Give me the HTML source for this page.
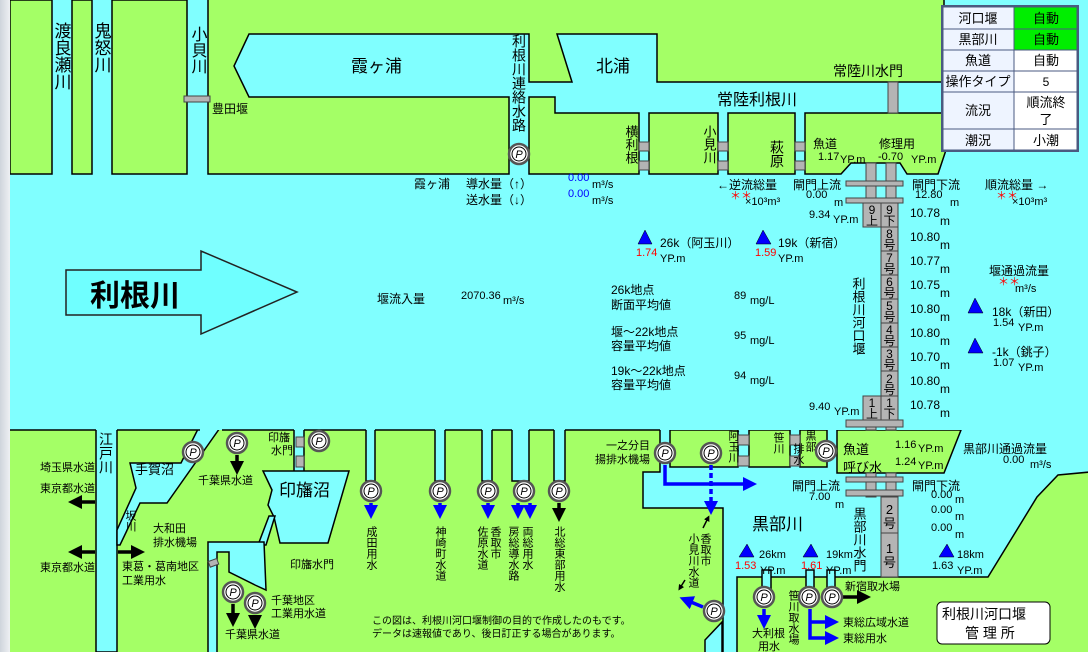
<!DOCTYPE html>
<html><head><meta charset="utf-8"><style>
html,body{margin:0;padding:0;width:1088px;height:652px;overflow:hidden;background:#80ffff}
svg{display:block}
text{font-family:"Liberation Sans","Noto Sans CJK JP",sans-serif;font-size:12px;fill:#000}
.v{writing-mode:vertical-rl;text-orientation:upright}
.g{fill:#a4ff66;stroke:#000;stroke-width:1.5}
.c{fill:#80ffff;stroke:#000;stroke-width:1.5}
.gr{fill:#b4b4b4;stroke:#444;stroke-width:1}
.b{fill:#00f}
.r{fill:#f00}
.n{font-size:11px}
</style></head><body>
<svg width="1088" height="652" viewBox="0 0 1088 652" xmlns="http://www.w3.org/2000/svg">
<defs>
<marker id="ak" markerWidth="4" markerHeight="4" refX="2" refY="2" orient="auto" markerUnits="strokeWidth"><path d="M0,0L4,2L0,4z" fill="#000"/></marker>
<marker id="ab" markerWidth="4" markerHeight="4" refX="2" refY="2" orient="auto" markerUnits="strokeWidth"><path d="M0,0L4,2L0,4z" fill="#00f"/></marker>
<linearGradient id="lg" x1="0" x2="1"><stop offset="0" stop-color="#cfd5dc"/><stop offset="1" stop-color="#eef0f3"/></linearGradient>
</defs>
<rect x="0" y="0" width="1088" height="652" fill="#80ffff"/>

<rect x="10" y="430" width="1078" height="222" fill="#a4ff66"/>
<rect x="96" y="425" width="21" height="227" class="c"/>
<polygon class="c" points="200,425 222,425 167,503 140,503 120,545 117,545 117,530 136,488 130,463 181,463"/>
<rect x="294" y="425" width="10" height="48" class="c"/>
<rect x="296" y="437" width="8" height="10" class="gr"/><rect x="296" y="456" width="8" height="11" class="gr"/>
<polygon class="c" points="263,471 349,471 328,543 280,543 274,517 268,505 272,490"/>
<polygon class="c" points="269,516 275,516 266,545 258,545"/>
<polygon class="c" points="208,542 264,542 266,590 255,585 229,572 229,552 217,552 217,656 208,656"/>
<rect x="366" y="425" width="9" height="56" class="c"/>
<rect x="435" y="425" width="10" height="56" class="c"/>
<rect x="482" y="425" width="10" height="56" class="c"/>
<rect x="512" y="425" width="17" height="56" class="c"/>
<rect x="554" y="425" width="11" height="56" class="c"/>
<polygon class="c" points="660,425 1090,425 1090,472 1058,475 1037,497 988,577 737,577 737,656 723,656 723,508 643,508 643,472 660,472"/>
<polygon class="c" points="705,656 722,656 722,622 705,640"/>
<rect x="762" y="570" width="9" height="20" class="c"/>
<rect x="806" y="570" width="8" height="20" class="c"/>
<rect x="827" y="570" width="8" height="20" class="c"/>
<rect x="670" y="430" width="68" height="37" class="g"/>
<rect x="749" y="430" width="41" height="37" class="g"/>
<rect x="800" y="430" width="27" height="37" class="g"/>
<rect x="738" y="435" width="11" height="10" class="gr"/><rect x="738" y="456" width="11" height="10" class="gr"/>
<rect x="790" y="435" width="10" height="10" class="gr"/><rect x="790" y="456" width="10" height="10" class="gr"/>
<polygon class="g" points="837,430 961,430 944,473 837,473"/>

<rect x="10" y="174" width="1078" height="256" fill="#80ffff"/>
<g stroke="#000" stroke-width="1.5">
<line x1="10" y1="430" x2="96" y2="430"/><line x1="117" y1="430" x2="200" y2="430"/>
<line x1="222" y1="430" x2="294" y2="430"/><line x1="304" y1="430" x2="366" y2="430"/>
<line x1="375" y1="430" x2="435" y2="430"/><line x1="445" y1="430" x2="482" y2="430"/>
<line x1="492" y1="430" x2="512" y2="430"/><line x1="529" y1="430" x2="554" y2="430"/>
<line x1="565" y1="430" x2="660" y2="430"/>
</g>

<rect x="10" y="0" width="42" height="174" class="g"/>
<rect x="72" y="0" width="20" height="174" class="g"/>
<rect x="112" y="0" width="75" height="174" class="g"/>
<polygon class="g" points="208,-2 944,-2 944,82 657,82 657,34 557,34 572,82 529,82 529,34 249,34 234,66 249,97 509,97 509,174 208,174"/>
<rect x="184" y="96" width="26" height="6" class="gr"/>
<polygon class="g" points="529,97 555,97 555,113 639,113 639,174 529,174"/>
<rect x="649" y="113" width="69" height="61" class="g"/>
<rect x="728" y="113" width="67" height="61" class="g"/>
<polygon class="g" points="805,113 946,113 946,150 938,174 907,174 900,163 851,163 841,174 805,174"/>
<g class="gr">
<rect x="639" y="142" width="10" height="9"/><rect x="639" y="161" width="10" height="9"/>
<rect x="718" y="142" width="10" height="9"/><rect x="718" y="161" width="10" height="9"/>
<rect x="795" y="142" width="10" height="9"/><rect x="795" y="161" width="10" height="9"/>
<rect x="888" y="82" width="10" height="31"/>
<rect x="866" y="163" width="10" height="40"/><rect x="886" y="163" width="10" height="40"/>
<rect x="846" y="181" width="57" height="5"/><rect x="846" y="198" width="57" height="5"/>
<rect x="863" y="203" width="18" height="24"/><rect x="863" y="396" width="18" height="24"/>
<rect x="881" y="203" width="17" height="24"/><rect x="881" y="227" width="17" height="24"/>
<rect x="881" y="251" width="17" height="24"/><rect x="881" y="275" width="17" height="24"/>
<rect x="881" y="299" width="17" height="24"/><rect x="881" y="323" width="17" height="24"/>
<rect x="881" y="347" width="17" height="24"/><rect x="881" y="371" width="17" height="25"/>
<rect x="881" y="396" width="17" height="24"/>
<rect x="846" y="420" width="57" height="7"/>
<rect x="866" y="427" width="10" height="3"/><rect x="886" y="427" width="10" height="3"/>
<rect x="866" y="473" width="10" height="24"/><rect x="886" y="473" width="10" height="24"/>
<rect x="846" y="477" width="57" height="5"/><rect x="846" y="490" width="57" height="6"/>
<rect x="881" y="497" width="17" height="36"/><rect x="881" y="533" width="17" height="44"/>
</g>
<g class="n" text-anchor="middle">
<text x="872" y="214">9</text><text x="872" y="225">上</text>
<text x="872" y="407">1</text><text x="872" y="418">上</text>
<text x="889.5" y="214">9</text><text x="889.5" y="225">下</text>
<text x="889.5" y="238">8</text><text x="889.5" y="249">号</text>
<text x="889.5" y="262">7</text><text x="889.5" y="273">号</text>
<text x="889.5" y="286">6</text><text x="889.5" y="297">号</text>
<text x="889.5" y="310">5</text><text x="889.5" y="321">号</text>
<text x="889.5" y="334">4</text><text x="889.5" y="345">号</text>
<text x="889.5" y="358">3</text><text x="889.5" y="369">号</text>
<text x="889.5" y="383">2</text><text x="889.5" y="394">号</text>
<text x="889.5" y="407">1</text><text x="889.5" y="418">下</text>
<text x="889.5" y="514" style="font-size:13px">2</text><text x="889.5" y="528" style="font-size:13px">号</text>
<text x="889.5" y="553" style="font-size:13px">1</text><text x="889.5" y="567" style="font-size:13px">号</text>
</g>

<rect x="0" y="0" width="10" height="652" fill="url(#lg)"/>

<g stroke="#4a5a80" stroke-width="1">
<rect x="942" y="6" width="136" height="145" fill="#f4f8ff" stroke-width="2"/>
<rect x="943" y="7" width="71" height="22" fill="#eef4ff"/><rect x="1014" y="7" width="63" height="22" fill="#00ee00"/>
<rect x="943" y="29" width="71" height="21" fill="#eef4ff"/><rect x="1014" y="29" width="63" height="21" fill="#00ee00"/>
<rect x="943" y="50" width="71" height="21" fill="#eef4ff"/><rect x="1014" y="50" width="63" height="21" fill="#fff"/>
<rect x="943" y="71" width="71" height="21" fill="#eef4ff"/><rect x="1014" y="71" width="63" height="21" fill="#fff"/>
<rect x="943" y="92" width="71" height="37" fill="#eef4ff"/><rect x="1014" y="92" width="63" height="37" fill="#fff"/>
<rect x="943" y="129" width="71" height="21" fill="#eef4ff"/><rect x="1014" y="129" width="63" height="21" fill="#fff"/>
</g>
<g text-anchor="middle">
<text x="978" y="23" style="font-size:13px">河口堰</text><text x="1046" y="23" style="font-size:13px">自動</text>
<text x="978" y="44" style="font-size:13px">黒部川</text><text x="1046" y="44" style="font-size:13px">自動</text>
<text x="978" y="65" style="font-size:13px">魚道</text><text x="1046" y="65" style="font-size:13px">自動</text>
<text x="978" y="86" style="font-size:13px">操作タイプ</text><text x="1046" y="86" style="font-size:12px">5</text>
<text x="978" y="115" style="font-size:13px">流況</text><text x="1046" y="107" style="font-size:13px">順流終</text><text x="1046" y="124" style="font-size:13px">了</text>
<text x="978" y="145" style="font-size:13px">潮況</text><text x="1046" y="145" style="font-size:13px">小潮</text>
</g>

<text class="v" x="61" y="22" style="font-size:17px">渡良瀬川</text>
<text class="v" x="101" y="22" style="font-size:17px">鬼怒川</text>
<text class="v" x="197" y="26" style="font-size:16px">小貝川</text>
<text x="212" y="113" style="font-size:12px">豊田堰</text>
<text x="351" y="72" style="font-size:17px">霞ヶ浦</text>
<text class="v" x="519" y="34" style="font-size:14px">利根川連絡水路</text>
<text x="596" y="72" style="font-size:17px">北浦</text>
<text x="833" y="76" style="font-size:14px">常陸川水門</text>
<text x="717" y="105" style="font-size:16px">常陸利根川</text>
<text class="v" x="631" y="125" style="font-size:13px">横利根</text>
<text class="v" x="709" y="125" style="font-size:13px">小見川</text>
<text class="v" x="777" y="140" style="font-size:14px">萩原</text>
<text x="813" y="148">魚道</text><text x="818" y="160" class="n">1.17</text><text x="840" y="163" class="n">YP.m</text>
<text x="879" y="148">修理用</text><text x="878" y="160" class="n">-0.70</text><text x="911" y="163" class="n">YP.m</text>

<text x="414" y="188">霞ヶ浦</text>
<text x="466" y="188">導水量（↑）</text>
<text x="466" y="204">送水量（↓）</text>
<text x="568" y="181" class="n b">0.00</text><text x="592" y="188" class="n">m³/s</text>
<text x="568" y="197" class="n b">0.00</text><text x="592" y="204" class="n">m³/s</text>
<text x="717" y="189">←逆流総量</text>
<text x="730" y="199" class="n r">＊＊</text><text x="745" y="205" class="n">×10³m³</text>
<text x="793" y="189">閘門上流</text><text x="806" y="198" class="n">0.00</text><text x="834" y="206" class="n">m</text>
<text x="912" y="189">閘門下流</text><text x="915" y="198" class="n">12.80</text><text x="950" y="206" class="n">m</text>
<text x="985" y="189">順流総量 →</text>
<text x="996" y="199" class="n r">＊＊</text><text x="1012" y="205" class="n">×10³m³</text>

<text x="809" y="218" class="n">9.34</text><text x="833" y="223" class="n">YP.m</text>
<text x="809" y="410" class="n">9.40</text><text x="834" y="415" class="n">YP.m</text>
<g class="n">
<text x="910" y="217">10.78</text><text x="940" y="225">m</text>
<text x="910" y="241">10.80</text><text x="940" y="249">m</text>
<text x="910" y="265">10.77</text><text x="940" y="273">m</text>
<text x="910" y="289">10.75</text><text x="940" y="297">m</text>
<text x="910" y="313">10.80</text><text x="940" y="321">m</text>
<text x="910" y="337">10.80</text><text x="940" y="345">m</text>
<text x="910" y="361">10.70</text><text x="940" y="369">m</text>
<text x="910" y="385">10.80</text><text x="940" y="393">m</text>
<text x="910" y="409">10.78</text><text x="940" y="417">m</text>
</g>
<text class="v" x="858" y="277" style="font-size:13px">利根川河口堰</text>

<g class="b" stroke="#000" stroke-width="0.5">
<polygon points="645,230 638,244 652,244"/><polygon points="763,230 756,244 771,244"/>
<polygon points="975,298 968,313 983,313"/><polygon points="975,338 968,353 983,353"/>
<polygon points="747,544 739,557 754,557"/><polygon points="811,544 803,557 818,557"/>
<polygon points="947,544 939,557 954,557"/>
</g>
<text x="636" y="256" class="n r">1.74</text><text x="660" y="247">26k（阿玉川）</text><text x="660" y="262" class="n">YP.m</text>
<text x="755" y="256" class="n r">1.59</text><text x="778" y="247">19k（新宿）</text><text x="778" y="262" class="n">YP.m</text>
<text x="611" y="294">26k地点</text><text x="611" y="309">断面平均値</text><text x="734" y="299" class="n">89</text><text x="750" y="304" class="n">mg/L</text>
<text x="611" y="336">堰〜22k地点</text><text x="611" y="350">容量平均値</text><text x="734" y="339" class="n">95</text><text x="750" y="344" class="n">mg/L</text>
<text x="611" y="375">19k〜22k地点</text><text x="611" y="389">容量平均値</text><text x="734" y="379" class="n">94</text><text x="750" y="384" class="n">mg/L</text>
<text x="989" y="275">堰通過流量</text><text x="998" y="285" class="n r">＊＊</text><text x="1015" y="292" class="n">m³/s</text>
<text x="992" y="316">18k（新田）</text><text x="993" y="326" class="n">1.54</text><text x="1018" y="331" class="n">YP.m</text>
<text x="992" y="356">-1k（銚子）</text><text x="993" y="366" class="n">1.07</text><text x="1018" y="371" class="n">YP.m</text>

<polygon points="66,270 201,270 201,251 297,292 201,334 201,315 66,315" fill="#6fffff" stroke="#222" stroke-width="1.5"/>
<text x="90" y="306" style="font-size:30px;font-weight:bold">利根川</text>
<text x="377" y="303">堰流入量</text><text x="461" y="299" class="n">2070.36</text><text x="503" y="304" class="n">m³/s</text>

<text class="v" x="106" y="432" style="font-size:14px">江戸川</text>
<text x="40" y="471" class="n">埼玉県水道</text>
<text x="40" y="492" class="n">東京都水道</text>
<text x="40" y="571" class="n">東京都水道</text>
<text x="135" y="474" style="font-size:13px">手賀沼</text>
<text class="v n" x="130" y="510">坂川</text>
<text x="198" y="484" class="n">千葉県水道</text>
<text x="268" y="441" class="n">印旛</text><text x="271" y="454" class="n">水門</text>
<text x="279" y="496" style="font-size:17px">印旛沼</text>
<text x="153" y="532" class="n">大和田</text><text x="153" y="546" class="n">排水機場</text>
<text x="122" y="570" class="n">東葛・葛南地区</text><text x="122" y="584" class="n">工業用水</text>
<text x="290" y="568" class="n">印旛水門</text>
<text x="271" y="604" class="n">千葉地区</text><text x="271" y="617" class="n">工業用水道</text>
<text x="225" y="638" class="n">千葉県水道</text>
<rect x="209" y="560" width="9" height="6" class="gr" transform="rotate(-20 213 563)"/>
<text class="v n" x="371" y="526">成田用水</text>
<text class="v n" x="440" y="526">神崎町水道</text>
<text class="v n" x="482" y="526">佐原水道</text><text class="v n" x="495" y="526">香取市</text>
<text class="v n" x="513" y="526">房総導水路</text><text class="v n" x="527" y="526">両総用水</text>
<text class="v n" x="559" y="526">北総東部用水</text>
<text x="372" y="624" style="font-size:10px">この図は、利根川河口堰制御の目的で作成したのもです。</text>
<text x="372" y="637" style="font-size:10px">データは速報値であり、後日訂正する場合があります。</text>

<text x="650" y="449" class="n" text-anchor="end">一之分目</text>
<text x="650" y="463" class="n" text-anchor="end">揚排水機場</text>
<text class="v n" x="733" y="430">阿玉川</text>
<text class="v n" x="778" y="432">笹川</text>
<text class="v n" x="810" y="430">黒部</text><text class="v n" x="798" y="443">排水</text>
<text x="843" y="454" style="font-size:13px">魚道</text><text x="843" y="472" style="font-size:13px">呼び水</text>
<text x="895" y="448" class="n">1.16</text><text x="918" y="452" class="n">YP.m</text>
<text x="895" y="465" class="n">1.24</text><text x="918" y="469" class="n">YP.m</text>
<text x="963" y="453">黒部川通過流量</text><text x="1003" y="463" class="n">0.00</text><text x="1030" y="468" class="n">m³/s</text>
<text x="792" y="490">閘門上流</text><text x="809" y="500" class="n">7.00</text><text x="835" y="508" class="n">m</text>
<text x="912" y="490">閘門下流</text>
<text x="931" y="498" class="n">0.00</text><text x="955" y="503" class="n">m</text>
<text x="931" y="513" class="n">0.00</text><text x="955" y="520" class="n">m</text>
<text x="931" y="531" class="n">0.00</text><text x="955" y="538" class="n">m</text>
<text x="752" y="530" style="font-size:17px">黒部川</text>
<text class="v" x="859" y="507" style="font-size:13px">黒部川水門</text>
<text x="735" y="569" class="n r">1.53</text><text x="759" y="558" class="n">26km</text><text x="760" y="574" class="n">YP.m</text>
<text x="801" y="569" class="n r">1.61</text><text x="826" y="558" class="n">19km</text><text x="826" y="574" class="n">YP.m</text>
<text x="932" y="569" class="n">1.63</text><text x="957" y="558" class="n">18km</text><text x="957" y="574" class="n">YP.m</text>
<text class="v n" x="693" y="533">小見川水道</text><text class="v n" x="705" y="533">香取市</text>
<text class="v n" x="793" y="590">笹川取水場</text>
<text x="752" y="637" class="n">大利根</text><text x="758" y="650" class="n">用水</text>
<text x="845" y="590" class="n">新宿取水場</text>
<text x="843" y="626" class="n">東総広域水道</text>
<text x="843" y="642" class="n">東総用水</text>
<rect x="937" y="602" width="113" height="42" rx="5" fill="#fff" stroke="#000" stroke-width="1"/>
<text x="942" y="619" style="font-size:14px">利根川河口堰</text>
<text x="965" y="638" style="font-size:14px">管 理 所</text>

<g stroke="#000" stroke-width="3.5" fill="none" marker-end="url(#ak)">
<line x1="95" y1="502" x2="75" y2="502"/><line x1="95" y1="552" x2="75" y2="552"/>
<line x1="118" y1="552" x2="138" y2="552"/>
<line x1="237" y1="455" x2="237" y2="468"/>
<line x1="233" y1="604" x2="233" y2="620"/><line x1="255" y1="615" x2="255" y2="622"/>
<line x1="559" y1="503" x2="559" y2="515"/>
<line x1="843" y1="597" x2="864" y2="597"/>
</g>
<g stroke="#000" stroke-width="1.5" fill="none" marker-end="url(#ak)">
<line x1="703" y1="528" x2="708" y2="518"/><line x1="685" y1="580" x2="680" y2="588"/>
</g>
<g stroke="#00f" stroke-width="3.5" fill="none" marker-end="url(#ab)">
<line x1="371" y1="503" x2="371" y2="512"/><line x1="440" y1="503" x2="440" y2="512"/>
<line x1="488" y1="503" x2="488" y2="512"/><line x1="518" y1="503" x2="518" y2="512"/>
<line x1="530" y1="503" x2="530" y2="512"/>
<polyline points="665,465 665,484 750,484"/>
<line x1="711" y1="465" x2="711" y2="508" stroke-dasharray="5,3"/>
<line x1="703" y1="607" x2="686" y2="600"/>
<line x1="764" y1="609" x2="764" y2="622"/>
<polyline points="810,609 810,638 832,638"/>
<line x1="810" y1="622" x2="832" y2="622"/>
</g>

<g stroke="#555" stroke-width="2.5" fill="#fff">
<circle cx="519" cy="154" r="10"/>
<circle cx="193" cy="452" r="10"/><circle cx="237" cy="443" r="10"/><circle cx="319" cy="441" r="10"/>
<circle cx="371" cy="491" r="10"/><circle cx="440" cy="491" r="10"/><circle cx="488" cy="491" r="10"/><circle cx="524" cy="491" r="10"/>
<circle cx="559" cy="491" r="10"/><circle cx="233" cy="592" r="10"/><circle cx="255" cy="603" r="10"/>
<circle cx="665" cy="453" r="10"/><circle cx="711" cy="453" r="10"/><circle cx="826" cy="451" r="10"/>
<circle cx="714" cy="611" r="10"/><circle cx="764" cy="597" r="10"/><circle cx="809" cy="597" r="10"/><circle cx="832" cy="597" r="10"/>
</g>
<g stroke="#000" stroke-width="1" fill="none">
<circle cx="519" cy="154" r="7"/>
<circle cx="193" cy="452" r="7"/><circle cx="237" cy="443" r="7"/><circle cx="319" cy="441" r="7"/>
<circle cx="371" cy="491" r="7"/><circle cx="440" cy="491" r="7"/><circle cx="488" cy="491" r="7"/><circle cx="524" cy="491" r="7"/>
<circle cx="559" cy="491" r="7"/><circle cx="233" cy="592" r="7"/><circle cx="255" cy="603" r="7"/>
<circle cx="665" cy="453" r="7"/><circle cx="711" cy="453" r="7"/><circle cx="826" cy="451" r="7"/>
<circle cx="714" cy="611" r="7"/><circle cx="764" cy="597" r="7"/><circle cx="809" cy="597" r="7"/><circle cx="832" cy="597" r="7"/>
</g>
<g text-anchor="middle" style="font-size:11px;font-style:italic">
<text x="519" y="158" style="font-size:11px">P</text>
<text x="193" y="456" style="font-size:11px">P</text><text x="237" y="447" style="font-size:11px">P</text><text x="319" y="445" style="font-size:11px">P</text>
<text x="371" y="495" style="font-size:11px">P</text><text x="440" y="495" style="font-size:11px">P</text><text x="488" y="495" style="font-size:11px">P</text><text x="524" y="495" style="font-size:11px">P</text>
<text x="559" y="495" style="font-size:11px">P</text><text x="233" y="596" style="font-size:11px">P</text><text x="255" y="607" style="font-size:11px">P</text>
<text x="665" y="457" style="font-size:11px">P</text><text x="711" y="457" style="font-size:11px">P</text><text x="826" y="455" style="font-size:11px">P</text>
<text x="714" y="615" style="font-size:11px">P</text><text x="764" y="601" style="font-size:11px">P</text><text x="809" y="601" style="font-size:11px">P</text><text x="832" y="601" style="font-size:11px">P</text>
</g>
</svg>
</body></html>
